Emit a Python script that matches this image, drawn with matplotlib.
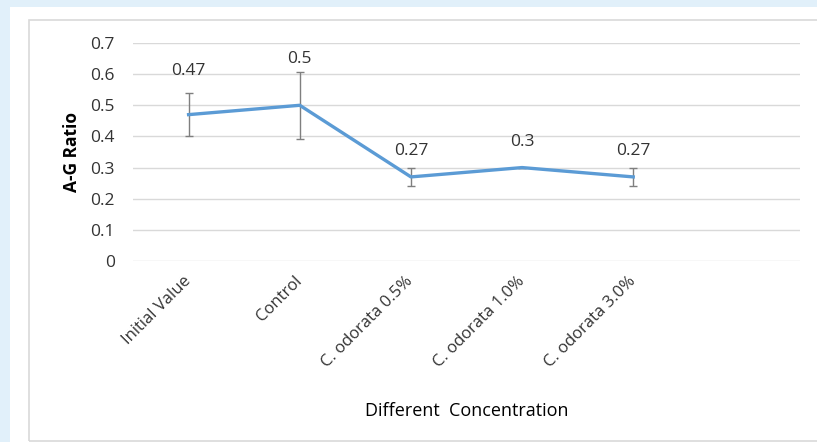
import matplotlib
matplotlib.use("Agg")
import matplotlib.pyplot as plt
from matplotlib.patches import Rectangle

# Data
categories = ["Initial Value", "Control", "C. odorata 0.5%", "C. odorata 1.0%", "C. odorata 3.0%"]
ag_ratio = [0.47, 0.5, 0.27, 0.3, 0.27]
ag_error = [0.07, 0.107, 0.03, 0.0, 0.03]
value_labels = ["0.47", "0.5", "0.27", "0.3", "0.27"]
y_ticks = [0, 0.1, 0.2, 0.3, 0.4, 0.5, 0.6, 0.7]

# Style
label_offsets_px = [44, 46, 26, 26, 26]
font = ["Open Sans", "DejaVu Sans"]
plt.rcParams["font.family"] = font
text_color = "#333333"

W, H = 817, 442
fig = plt.figure(figsize=(W / 100, H / 100), dpi=100, facecolor="#e1f0fa")

# White panel and its thin border
fig.patches.append(Rectangle((10 / W, 0), 1 - 10 / W, 1 - 7 / H,
                             transform=fig.transFigure, facecolor="white",
                             edgecolor="none", zorder=-3))
fig.patches.append(Rectangle((29.5 / W, 1.5 / H), 1.0, 1 - 21.5 / H,
                             transform=fig.transFigure, facecolor="none",
                             edgecolor="#d9d9d9", linewidth=1.2, zorder=-2))

ax = fig.add_axes([133 / W, 1 - 261 / H, (800 - 133) / W, (261 - 43) / H])
ax.set_facecolor("none")

x = list(range(len(categories)))
ax.errorbar(x, ag_ratio, yerr=ag_error, color="#5b9bd5", linewidth=2.4,
            ecolor="#7f7f7f", elinewidth=1.0, capsize=3.2, capthick=1.0, zorder=3)

for xi, v, lab, off in zip(x, ag_ratio, value_labels, label_offsets_px):
    ax.annotate(lab, (xi, v), xytext=(0, off), textcoords="offset pixels",
                ha="center", va="center", fontsize=12.5, color=text_color)

ax.set_xlim(-0.5, 5.5)
ax.set_ylim(0, 0.7)
ax.set_yticks(y_ticks)
ax.set_yticklabels([f"{t:g}" for t in y_ticks])
ax.set_xticks(x)
ax.set_xticklabels(categories, rotation=45, ha="right", rotation_mode="anchor",
                   va="center")
ax.tick_params(axis="y", length=0, pad=13, labelsize=12.5, labelcolor=text_color)
ax.tick_params(axis="x", length=0, pad=13, labelsize=12, labelcolor=text_color)
ax.grid(axis="y", color="#d9d9d9", linewidth=1.0)
ax.set_axisbelow(True)
for s in ax.spines.values():
    s.set_visible(False)

ax.set_ylabel("A-G Ratio", fontsize=12.5, fontweight="bold", color="black", labelpad=7)
ax.set_xlabel("Different  Concentration", fontsize=13, color="black")
ax.xaxis.set_label_coords(0.5, 1 - (402 - 43) / (261 - 43))

fig.savefig("out.png", dpi=100, facecolor=fig.get_facecolor())
